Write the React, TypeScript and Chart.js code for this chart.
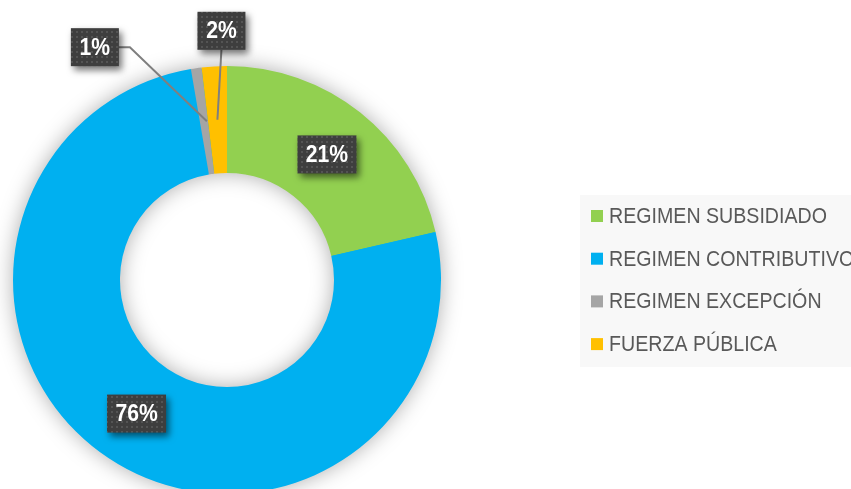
import React, { useEffect, useRef } from "react";
import { Chart, registerables } from "chart.js";

Chart.register(...registerables);

const categories = ["REGIMEN SUBSIDIADO", "REGIMEN CONTRIBUTIVO", "REGIMEN EXCEPCIÓN", "FUERZA PÚBLICA"];
const values = [21.4, 75.9, 0.8, 1.9];
const colors = ["#92D050", "#00B0F0", "#A5A5A5", "#FFC000"];

// label box offsets from slice centroid (dx, dy), and leader style
const labelOffsets: [number, number][] = [[0, 0], [-1.5, 0], [-109, -74], [4, -89]];
const leaderKind = ["none", "none", "elbow", "straight"];

const FONT = '"Liberation Sans", Arial, sans-serif';
const NARROW = 0.88;

function makePattern(ctx: CanvasRenderingContext2D) {
  const c = document.createElement("canvas");
  c.width = 5;
  c.height = 5;
  const p = c.getContext("2d")!;
  p.fillStyle = "#3e3e3e";
  p.fillRect(0, 0, 5, 5);
  p.fillStyle = "#545454";
  p.fillRect(1, 1, 2, 2);
  return ctx.createPattern(c, "repeat")!;
}

function narrowText(ctx: CanvasRenderingContext2D, text: string, x: number, y: number, sx: number) {
  ctx.save();
  ctx.translate(x, y);
  ctx.scale(sx, 1);
  ctx.fillText(text, 0, 0);
  ctx.restore();
}

const ringShadow = {
  id: "ringShadow",
  beforeDatasetsDraw(chart: any) {
    const meta = chart.getDatasetMeta(0);
    const arc = meta.data[0];
    if (!arc) return;
    const { x, y, outerRadius, innerRadius } = arc.getProps(["x", "y", "outerRadius", "innerRadius"], true);
    const ctx = chart.ctx;
    ctx.save();
    ctx.shadowColor = "rgba(0,0,0,0.35)";
    ctx.shadowBlur = 22;
    ctx.beginPath();
    ctx.arc(x, y, outerRadius - 1, 0, Math.PI * 2);
    ctx.arc(x, y, innerRadius + 1, 0, Math.PI * 2, true);
    ctx.fillStyle = "#00B0F0";
    ctx.fill("evenodd");
    ctx.restore();
  },
};

const labelsPlugin = {
  id: "boxLabels",
  afterDatasetsDraw(chart: any) {
    const ctx: CanvasRenderingContext2D = chart.ctx;
    const meta = chart.getDatasetMeta(0);
    const data: number[] = chart.data.datasets[0].data;
    const total = data.reduce((a, b) => a + b, 0);
    const pattern = makePattern(ctx);
    meta.data.forEach((arc: any, i: number) => {
      const c = arc.getCenterPoint();
      const [dx, dy] = labelOffsets[i];
      const bx = c.x + dx;
      const by = c.y + dy;
      const text = Math.round((data[i] / total) * 100) + "%";
      ctx.save();
      ctx.font = `bold 24px ${FONT}`;
      const tw = ctx.measureText(text).width * NARROW;
      const w = Math.round(tw + 17);
      const h = 38;
      const left = bx - w / 2;
      const top = by - h / 2;
      ctx.strokeStyle = "#7F7F7F";
      ctx.lineWidth = 2;
      if (leaderKind[i] === "elbow") {
        ctx.beginPath();
        ctx.moveTo(c.x + 3, c.y);
        ctx.lineTo(left + w + 11, by);
        ctx.lineTo(left + w, by);
        ctx.stroke();
      } else if (leaderKind[i] === "straight") {
        ctx.beginPath();
        ctx.moveTo(c.x, c.y);
        ctx.lineTo(bx, top + h);
        ctx.stroke();
      }
      ctx.shadowColor = "rgba(0,0,0,0.55)";
      ctx.shadowBlur = 7;
      ctx.shadowOffsetX = 3;
      ctx.shadowOffsetY = 4;
      ctx.fillStyle = pattern;
      ctx.fillRect(left, top, w, h);
      ctx.restore();
      ctx.save();
      ctx.font = `bold 24px ${FONT}`;
      ctx.fillStyle = "#FFFFFF";
      ctx.textAlign = "center";
      ctx.textBaseline = "middle";
      narrowText(ctx, text, bx, by + 1, NARROW);
      ctx.restore();
    });
  },
};

const legendPlugin = {
  id: "sideLegend",
  afterDraw(chart: any) {
    const ctx: CanvasRenderingContext2D = chart.ctx;
    const labels: string[] = chart.data.labels;
    const bg: string[] = chart.data.datasets[0].backgroundColor;
    ctx.save();
    ctx.fillStyle = "#F8F8F8";
    ctx.fillRect(580, 195, 300, 172);
    ctx.font = `22px ${FONT}`;
    const sx = 218 / ctx.measureText(labels[0]).width;
    labels.forEach((lab, i) => {
      const cy = 216 + i * 42.7;
      ctx.fillStyle = bg[i];
      ctx.fillRect(591, cy - 6, 12, 12);
      ctx.fillStyle = "#595959";
      ctx.font = `22px ${FONT}`;
      ctx.textBaseline = "middle";
      ctx.textAlign = "left";
      narrowText(ctx, lab, 609, cy + 1, sx);
    });
    ctx.restore();
  },
};

export default function App() {
  const ref = useRef<HTMLCanvasElement>(null);
  useEffect(() => {
    document.body.style.margin = "0";
    const chart = new Chart(ref.current!, {
      type: "doughnut",
      data: {
        labels: categories,
        datasets: [
          {
            data: values,
            backgroundColor: colors,
            borderWidth: 0,
          },
        ],
      },
      options: {
        animation: false,
        responsive: false,
        cutout: "50%",
        layout: { padding: { left: 13, top: 66, right: 410, bottom: 6 } },
        plugins: {
          legend: { display: false },
          tooltip: { enabled: false },
        },
      },
      plugins: [ringShadow, labelsPlugin, legendPlugin],
    });
    return () => chart.destroy();
  }, []);
  return (
    <div style={{ width: 851, height: 489, overflow: "hidden", background: "#fff" }}>
      <canvas ref={ref} width={851} height={500} style={{ display: "block" }} />
    </div>
  );
}
